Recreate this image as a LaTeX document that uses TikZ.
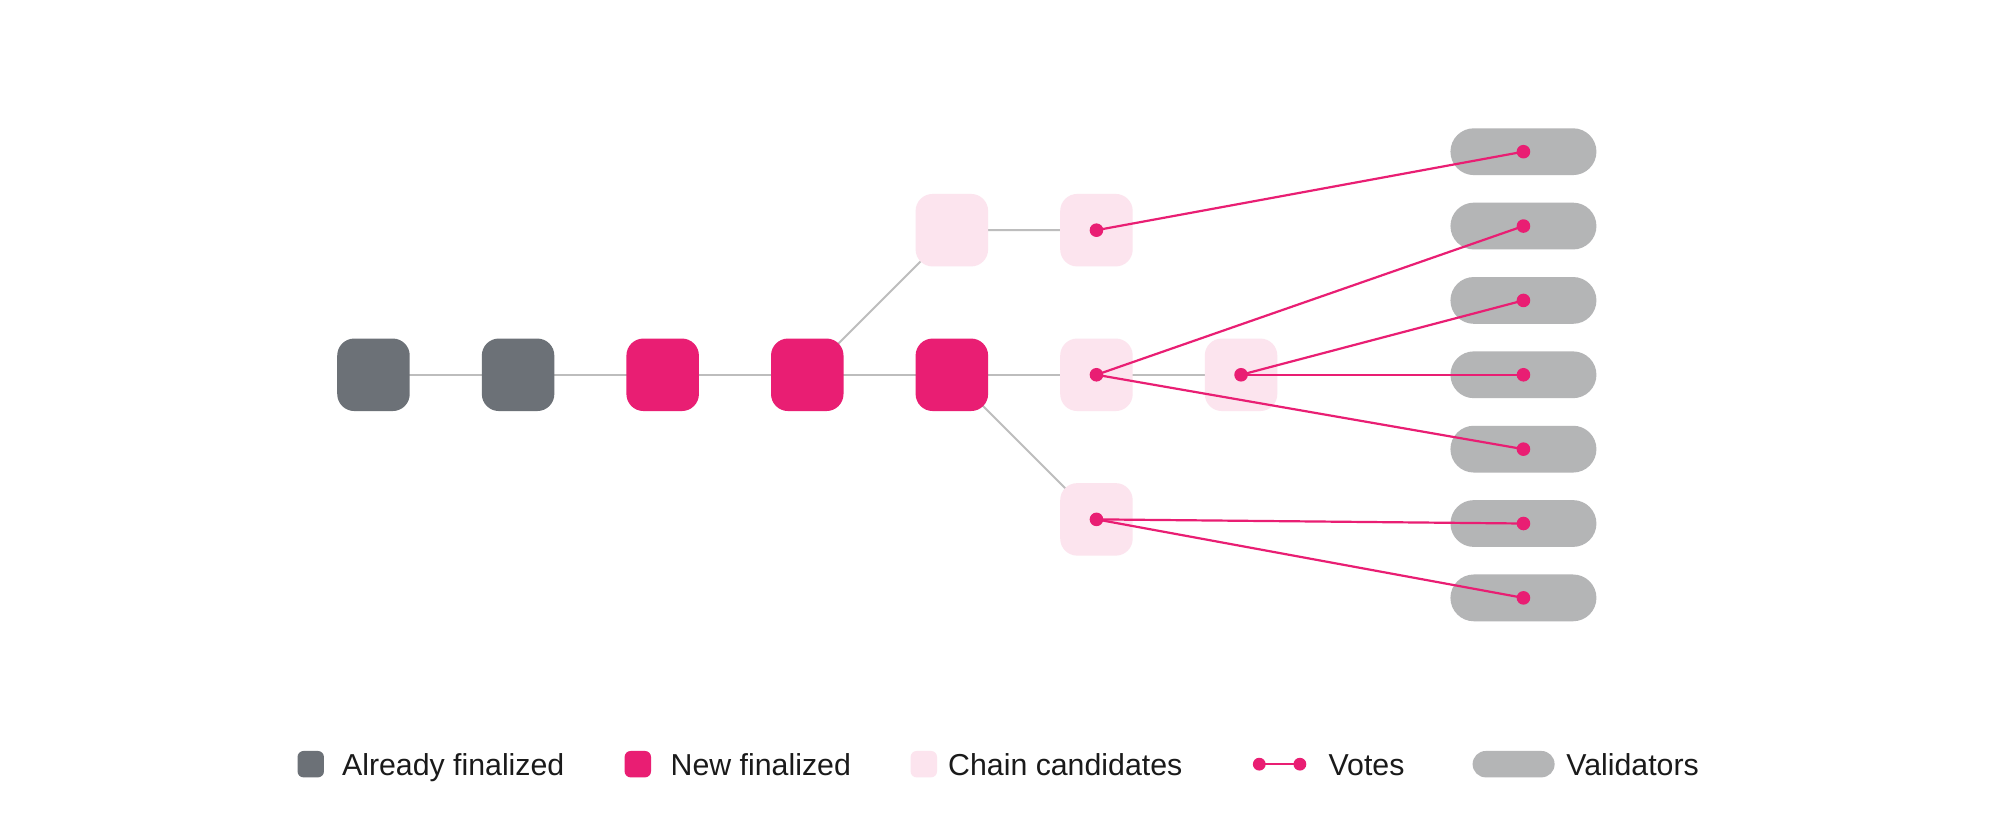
\documentclass[tikz,border=0pt]{standalone}
\usepackage{fontspec}
\setmainfont{Liberation Sans}
\usetikzlibrary{backgrounds}
\definecolor{finalgray}{HTML}{6C7177}
\definecolor{votepink}{HTML}{E91E73}
\definecolor{candpink}{HTML}{FCE4EE}
\definecolor{valgray}{HTML}{B4B5B6}
\definecolor{linegray}{HTML}{BDBDBD}
\definecolor{textblack}{HTML}{1A1A1A}

\begin{document}
\begin{tikzpicture}[x=72.3pt,y=72.3pt,
    block/.style={rounded corners=8.5pt,minimum size=36.25pt,inner sep=0pt},
    doneblock/.style={block,fill=finalgray},
    newblock/.style={block,fill=votepink},
    candblock/.style={block,fill=candpink},
    validator/.style={rounded corners=11.7pt,minimum width=73pt,minimum height=23.4pt,inner sep=0pt,fill=valgray},
    legendbox/.style={minimum size=13.2pt,rounded corners=3pt},
    legendtext/.style={anchor=base west,inner sep=0pt,text=textblack,font=\fontsize{15.15pt}{18pt}\selectfont},
    link/.style={draw=linegray,line width=1pt},
    vote/.style={draw=votepink,line width=1.1pt}]
    \useasboundingbox (-2.583,-3.162) rectangle (11.242,2.592);

    % chain
    \node[doneblock] (b1) at (0,0) {};
    \node[doneblock] (b2) at (1,0) {};
    \node[newblock] (b3) at (2,0) {};
    \node[newblock] (b4) at (3,0) {};
    \node[newblock] (b5) at (4,0) {};
    % candidates
    \node[candblock] (t1) at (4,1) {};
    \node[candblock] (t2) at (5,1) {};
    \node[candblock] (m1) at (5,0) {};
    \node[candblock] (m2) at (6,0) {};
    \node[candblock] (d1) at (5,-1) {};
    % validators
    \foreach \i in {1,...,7}
        \node[validator] (v\i) at (7.953,{(4-\i)*0.5143}) {};

    \begin{scope}[on background layer]
        \fill[white] (-2.583,-3.162) rectangle (11.242,2.592);
        \draw[link] (b1.center) -- (b2.center) -- (b3.center) -- (b4.center) -- (b5.center) -- (m1.center) -- (m2.center);
        \draw[link] (b4.center) -- (t1.center) -- (t2.center);
        \draw[link] (b5.center) -- (d1.center);
    \end{scope}

    % votes
    \draw[vote] (t2.center) -- (v1.center);
    \draw[vote] (m1.center) -- (v2.center);
    \draw[vote] (m1.center) -- (v5.center);
    \draw[vote] (m2.center) -- (v3.center);
    \draw[vote] (m2.center) -- (v4.center);
    \draw[vote] (d1.center) -- (v6.center);
    \draw[vote] (d1.center) -- (v7.center);
    \foreach \n in {t2,m1,m2,d1,v1,v2,v3,v4,v5,v6,v7}
        \fill[votepink] (\n) circle (3.4pt);

    % legend
    \node[doneblock,legendbox] (k1) at (-0.434,-2.693) {};
    \node[legendtext] (k1t) at (-0.220,-2.768) {Already finalized};
    \node[newblock,legendbox] (k2) at (1.828,-2.693) {};
    \node[legendtext] (k2t) at (2.053,-2.768) {New finalized};
    \node[candblock,legendbox] (k3) at (3.806,-2.693) {};
    \node[legendtext] (k3t) at (3.972,-2.768) {Chain candidates};
    \coordinate (k4a) at (6.126,-2.693);
    \coordinate (k4b) at (6.407,-2.693);
    \draw[vote] (k4a) -- (k4b);
    \fill[votepink] (k4a) circle (3.2pt);
    \fill[votepink] (k4b) circle (3.2pt);
    \node[legendtext] (k4t) at (6.603,-2.768) {Votes};
    \node[validator,minimum width=41pt,minimum height=13.2pt,rounded corners=6.6pt] (k5) at (7.885,-2.693) {};
    \node[legendtext] (k5t) at (8.247,-2.768) {Validators};
\end{tikzpicture}
\end{document}
